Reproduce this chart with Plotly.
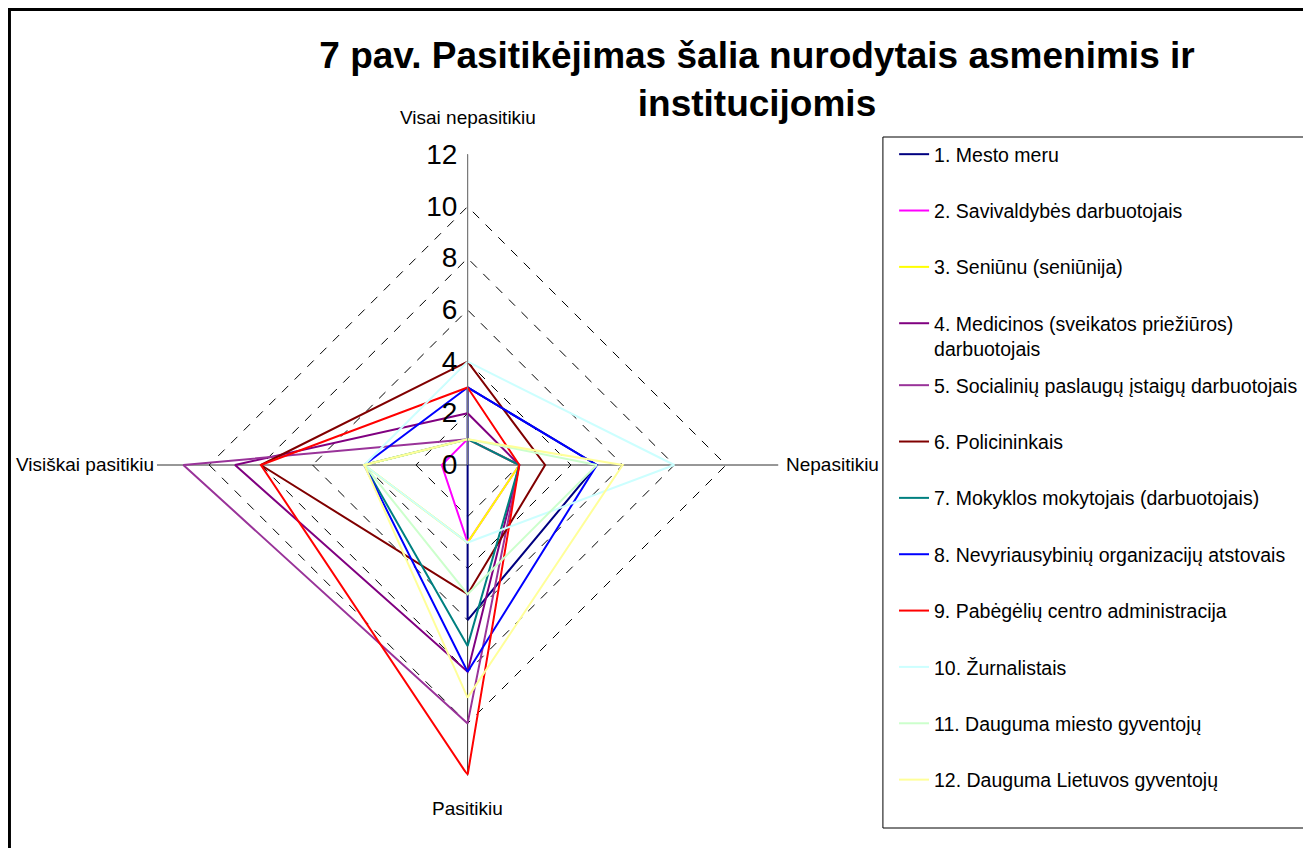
import plotly.graph_objects as go

CATEGORIES = ["Visai nepasitikiu", "Nepasitikiu", "Pasitikiu", "Visiškai pasitikiu"]

SERIES_NAMES = [
    "1. Mesto meru",
    "2. Savivaldybės darbuotojais",
    "3. Seniūnu (seniūnija)",
    "4. Medicinos (sveikatos priežiūros)<br>darbuotojais",
    "5. Socialinių paslaugų įstaigų darbuotojais",
    "6. Policininkais",
    "7. Mokyklos mokytojais (darbuotojais)",
    "8. Nevyriausybinių organizacijų atstovais",
    "9. Pabėgėlių centro administracija",
    "10. Žurnalistais",
    "11. Dauguma miesto gyventojų",
    "12. Dauguma Lietuvos gyventojų",
]

# values per category: top, right, bottom, left
mesto_meru = [3, 5, 6, 0]
savivaldybes = [1, 2, 3, 1]
seniunu = [1, 2, 3, 4]
medicinos = [2, 2, 8, 9]
socialiniu = [1, 2, 10, 11]
policininkai = [4, 3, 5, 8]
mokyklos = [1, 2, 7, 4]
nevyriausybiniu = [3, 5, 8, 4]
pabegeliu = [3, 2, 12, 8]
zurnalistai = [4, 8, 3, 4]
miesto_gyventoju = [1, 5, 5, 4]
lietuvos_gyventoju = [1, 6, 9, 4]

SERIES_VALUES = [
    mesto_meru, savivaldybes, seniunu, medicinos, socialiniu, policininkai,
    mokyklos, nevyriausybiniu, pabegeliu, zurnalistai, miesto_gyventoju,
    lietuvos_gyventoju,
]

COLORS = [
    "#000080", "#FF00FF", "#FFFF00", "#800080", "#993399", "#800000",
    "#008080", "#0000FF", "#FF0000", "#CCFFFF", "#CCFFCC", "#FFFF99",
]

FONT = "Liberation Sans, Arial, sans-serif"

# page body has an 8px margin on every side; keep the figure inside the window
W, H = 1295, 840


def px_x(x):
    return x / W


def px_y(y):
    # y measured from the top of the figure
    return 1 - y / H


fig = go.Figure()
for i, (name, vals) in enumerate(zip(SERIES_NAMES, SERIES_VALUES)):
    fig.add_trace(
        go.Scatterpolar(
            r=vals + [vals[0]],
            theta=CATEGORIES + [CATEGORIES[0]],
            mode="lines",
            name=name,
            legendgroup=str(i),
            # the two-line item would push the rest down, so split in two legends
            legend="legend" if i < 4 else "legend2",
            line=dict(color=COLORS[i], width=2),
        )
    )

legend_style = dict(
    xanchor="left",
    yanchor="top",
    bgcolor="rgba(0,0,0,0)",
    borderwidth=0,
    tracegroupgap=28,
    valign="top",
    font=dict(size=19.5, family=FONT),
)

axis_labels = [
    dict(text=CATEGORIES[0], x=px_x(472), y=px_y(110), xanchor="center", yanchor="middle"),
    dict(text=CATEGORIES[1], x=px_x(797), y=px_y(457), xanchor="left", yanchor="middle"),
    dict(text=CATEGORIES[2], x=px_x(472), y=px_y(800), xanchor="center", yanchor="middle"),
    dict(text=CATEGORIES[3], x=px_x(152), y=px_y(457), xanchor="right", yanchor="middle"),
]
for a in axis_labels:
    a.update(xref="paper", yref="paper", showarrow=False, font=dict(size=19, family=FONT))

fig.update_layout(
    width=W,
    height=H,
    margin=dict(l=0, r=0, t=0, b=0),
    paper_bgcolor="white",
    plot_bgcolor="white",
    font=dict(family=FONT, color="black"),
    title=dict(
        text="<b>7 pav. Pasitikėjimas šalia nurodytais asmenimis ir<br>institucijomis</b>",
        x=px_x(749),
        xanchor="center",
        y=px_y(60),
        yanchor="top",
        font=dict(size=37, family=FONT),
    ),
    polar=dict(
        domain=dict(x=[px_x(153), px_x(791)], y=[px_y(776), px_y(138)]),
        bgcolor="white",
        gridshape="linear",
        radialaxis=dict(
            range=[0, 12.02],
            tickvals=[0, 2, 4, 6, 8, 10, 12],
            angle=90,
            tickangle=90,
            side="counterclockwise",
            showline=True,
            linecolor="#808080",
            linewidth=1,
            gridcolor="black",
            griddash="dash",
            gridwidth=1,
            tickfont=dict(size=28, family=FONT),
        ),
        angularaxis=dict(
            type="category",
            categoryarray=CATEGORIES,
            rotation=90,
            direction="clockwise",
            showline=False,
            gridcolor="#303030",
            gridwidth=1,
            ticks="",
            showticklabels=False,
        ),
    ),
    legend=dict(x=px_x(910), y=px_y(127), **legend_style),
    legend2=dict(x=px_x(910), y=px_y(358), **legend_style),
    annotations=axis_labels,
    shapes=[
        # legend box, open to the right like the cropped original
        dict(
            type="rect",
            xref="paper",
            yref="paper",
            x0=px_x(898.5),
            x1=1.05,
            y0=px_y(820),
            y1=px_y(129),
            line=dict(color="black", width=1),
            fillcolor="white",
            layer="below",
        ),
        # outer frame
        dict(
            type="rect",
            xref="paper",
            yref="paper",
            x0=px_x(1.5),
            x1=1.05,
            y0=-0.05,
            y1=px_y(1.5),
            line=dict(color="black", width=3),
        ),
    ],
)

fig.write_html("out.html")
